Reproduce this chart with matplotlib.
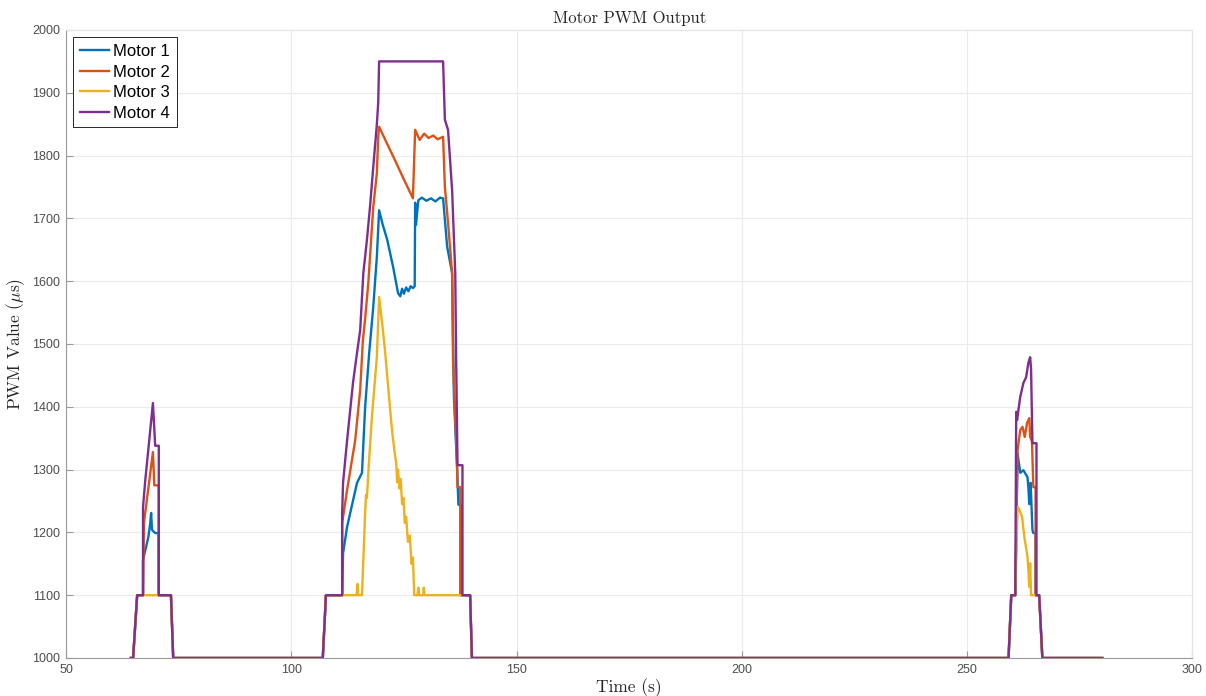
import matplotlib.pyplot as plt

plt.rcParams['mathtext.fontset'] = 'cm'
plt.rcParams['axes.unicode_minus'] = False

# Motor 1 (blue)
t1 = [64.4, 64.9, 65.8, 67.1, 67.1, 68.3, 68.7, 68.9, 69.1, 69.8, 70.6, 70.6, 73.3, 73.8,
      107.0, 107.7, 111.3, 111.5, 112.4, 114.0, 114.6, 115.7, 116.4, 117.3, 118.2, 119.0, 119.5,
      120.3, 121.3, 122.6, 123.7, 124.2, 124.6, 125.0, 125.5, 126.0, 126.5, 127.0, 127.4, 127.5,
      127.7, 128.2, 129.0, 130.0, 131.0, 132.0, 133.0, 133.7, 134.6, 135.7, 135.9, 136.1, 136.8,
      137.1, 137.6, 137.6, 139.7, 140.1,
      259.2, 259.8, 260.7, 261.2, 261.8, 262.5, 263.4, 263.6, 263.8, 264.1, 264.5, 264.7, 265.2,
      265.2, 266.0, 266.7, 280.0]
v1 = [1000, 1000, 1100, 1100, 1156, 1193, 1215, 1231, 1204, 1199, 1199, 1100, 1100, 1000,
      1000, 1100, 1100, 1167, 1209, 1260, 1279, 1295, 1400, 1486, 1559, 1639, 1713,
      1690, 1666, 1623, 1581, 1576, 1588, 1580, 1590, 1584, 1592, 1589, 1592, 1725,
      1690, 1729, 1733, 1728, 1732, 1727, 1733, 1732, 1655, 1613, 1518, 1416, 1304,
      1244, 1244, 1100, 1100, 1000,
      1000, 1100, 1100, 1326, 1295, 1299, 1288, 1272, 1245, 1279, 1204, 1199, 1199,
      1100, 1100, 1000, 1000]

# Motor 2 (orange)
t2 = [64.4, 64.9, 65.8, 67.1, 67.3, 69.3, 69.6, 70.6, 70.6, 73.3, 73.8,
      107.0, 107.7, 111.3, 111.3, 112.4, 114.2, 115.3, 115.9, 116.4, 117.1, 118.2, 119.0, 119.3,
      119.5, 121.0, 123.0, 125.0, 127.0, 127.5, 128.5, 129.5, 130.5, 131.5, 132.5, 133.7, 134.1,
      134.8, 135.7, 135.9, 136.8, 136.9, 137.5, 137.5, 139.7, 140.1,
      259.2, 259.8, 260.7, 261.2, 261.8, 262.3, 262.8, 263.3, 263.8, 264.0, 264.4, 264.7, 265.2,
      265.2, 266.0, 266.7, 280.0]
v2 = [1000, 1000, 1100, 1100, 1215, 1328, 1275, 1275, 1100, 1100, 1000,
      1000, 1100, 1100, 1215, 1268, 1347, 1427, 1506, 1540, 1597, 1718, 1772, 1830,
      1846, 1823, 1793, 1762, 1732, 1841, 1825, 1835, 1828, 1832, 1826, 1830, 1750,
      1693, 1613, 1475, 1307, 1272, 1272, 1100, 1100, 1000,
      1000, 1100, 1100, 1331, 1363, 1368, 1352, 1374, 1382, 1352, 1345, 1272, 1272,
      1100, 1100, 1000, 1000]

# Motor 3 (yellow)
t3 = [64.4, 64.9, 65.8, 70.6, 73.3, 73.8,
      107.0, 107.7, 114.5, 114.7, 114.9, 115.7, 116.4, 116.6, 116.8, 117.1, 117.9, 119.0, 119.5,
      120.4, 120.8, 121.9, 122.4, 122.9, 123.3, 123.5, 123.7, 124.0, 124.3, 124.6, 124.9, 125.2,
      125.5, 125.9, 126.3, 126.7, 127.0, 127.3, 128.0, 128.2, 128.4, 129.3, 129.4, 129.6, 139.7,
      140.1,
      259.2, 259.8, 260.7, 261.2, 261.6, 262.2, 262.7, 263.1, 263.4, 263.6, 263.8, 264.0, 264.2,
      266.0, 266.7, 280.0]
v3 = [1000, 1000, 1100, 1100, 1100, 1000,
      1000, 1100, 1100, 1118, 1100, 1100, 1231, 1260, 1255, 1295, 1384, 1480, 1575,
      1518, 1490, 1400, 1360, 1330, 1310, 1280, 1300, 1270, 1285, 1245, 1255, 1215,
      1225, 1185, 1195, 1150, 1160, 1100, 1100, 1112, 1100, 1100, 1112, 1100, 1100,
      1000,
      1000, 1100, 1100, 1241, 1236, 1225, 1193, 1175, 1161, 1140, 1113, 1151, 1100,
      1100, 1000, 1000]

# Motor 4 (purple)
t4 = [64.4, 64.9, 65.8, 67.1, 67.1, 67.6, 69.3, 69.8, 70.6, 70.6, 73.3, 73.8,
      107.0, 107.7, 111.3, 111.3, 111.5, 112.4, 113.7, 114.6, 115.3, 116.0, 116.8, 117.5, 118.2,
      119.0, 119.3, 119.5, 133.7, 134.1, 134.8, 135.7, 136.4, 136.6, 136.9, 138.0, 138.0, 139.7,
      140.1,
      259.2, 259.8, 260.7, 260.9, 261.1, 261.8, 262.5, 263.1, 263.6, 264.0, 264.2, 264.5, 265.4,
      265.4, 266.0, 266.7, 280.0]
v4 = [1000, 1000, 1100, 1100, 1240, 1283, 1406, 1338, 1338, 1100, 1100, 1000,
      1000, 1100, 1100, 1231, 1279, 1347, 1438, 1486, 1522, 1613, 1666, 1720, 1782,
      1850, 1884, 1950, 1950, 1857, 1841, 1745, 1613, 1475, 1307, 1307, 1100, 1100,
      1000,
      1000, 1100, 1100, 1392, 1379, 1416, 1438, 1447, 1470, 1479, 1460, 1342, 1342,
      1100, 1100, 1000, 1000]

labels = ['Motor 1', 'Motor 2', 'Motor 3', 'Motor 4']
colors = ['#0072BD', '#D95319', '#EDB120', '#7E2F8E']

fig = plt.figure(figsize=(12.06, 6.96), dpi=100)
ax = fig.add_axes([0.0547, 0.0546, 0.934, 0.9023])

for t, v, lab, c in zip([t1, t2, t3, t4], [v1, v2, v3, v4], labels, colors):
    ax.plot(t, v, color=c, lw=1.7, label=lab)

ax.set_xlim(50, 300)
ax.set_ylim(1000, 2000)
ax.set_xticks(range(50, 301, 50))
ax.set_yticks(range(1000, 2001, 100))
ax.grid(True, color='#ebebeb', lw=0.8)
ax.set_axisbelow(True)

for s in ['left', 'bottom']:
    ax.spines[s].set_color('#9a9a9a')
for s in ['top', 'right']:
    ax.spines[s].set_color('#e4e4e4')
ax.tick_params(direction='in', length=5, color='#9a9a9a', labelcolor='#4d4d4d', pad=4)
for lbl in ax.get_xticklabels() + ax.get_yticklabels():
    lbl.set_fontfamily('Liberation Sans')
    lbl.set_fontsize(9)

ax.set_title('Motor PWM Output', fontfamily='cmr10', fontsize=12, color='#262626', pad=5)
ax.set_xlabel('Time (s)', fontfamily='cmr10', fontsize=12.5, color='#262626', labelpad=2)
ax.set_ylabel(r'PWM Value ($\mu$s)', fontfamily='cmr10', fontsize=12.5, color='#262626', labelpad=4)

# legend box in the top left corner, square frame like matlab
leg = ax.legend(loc='upper left', prop={'family': 'Liberation Sans', 'size': 12},
                fancybox=False, framealpha=1, edgecolor='#262626', handlelength=1.75,
                labelspacing=0.33, borderpad=0.4, borderaxespad=0.45, handletextpad=0.25)
leg.get_frame().set_linewidth(0.7)

plt.savefig('out.png', dpi=100)
